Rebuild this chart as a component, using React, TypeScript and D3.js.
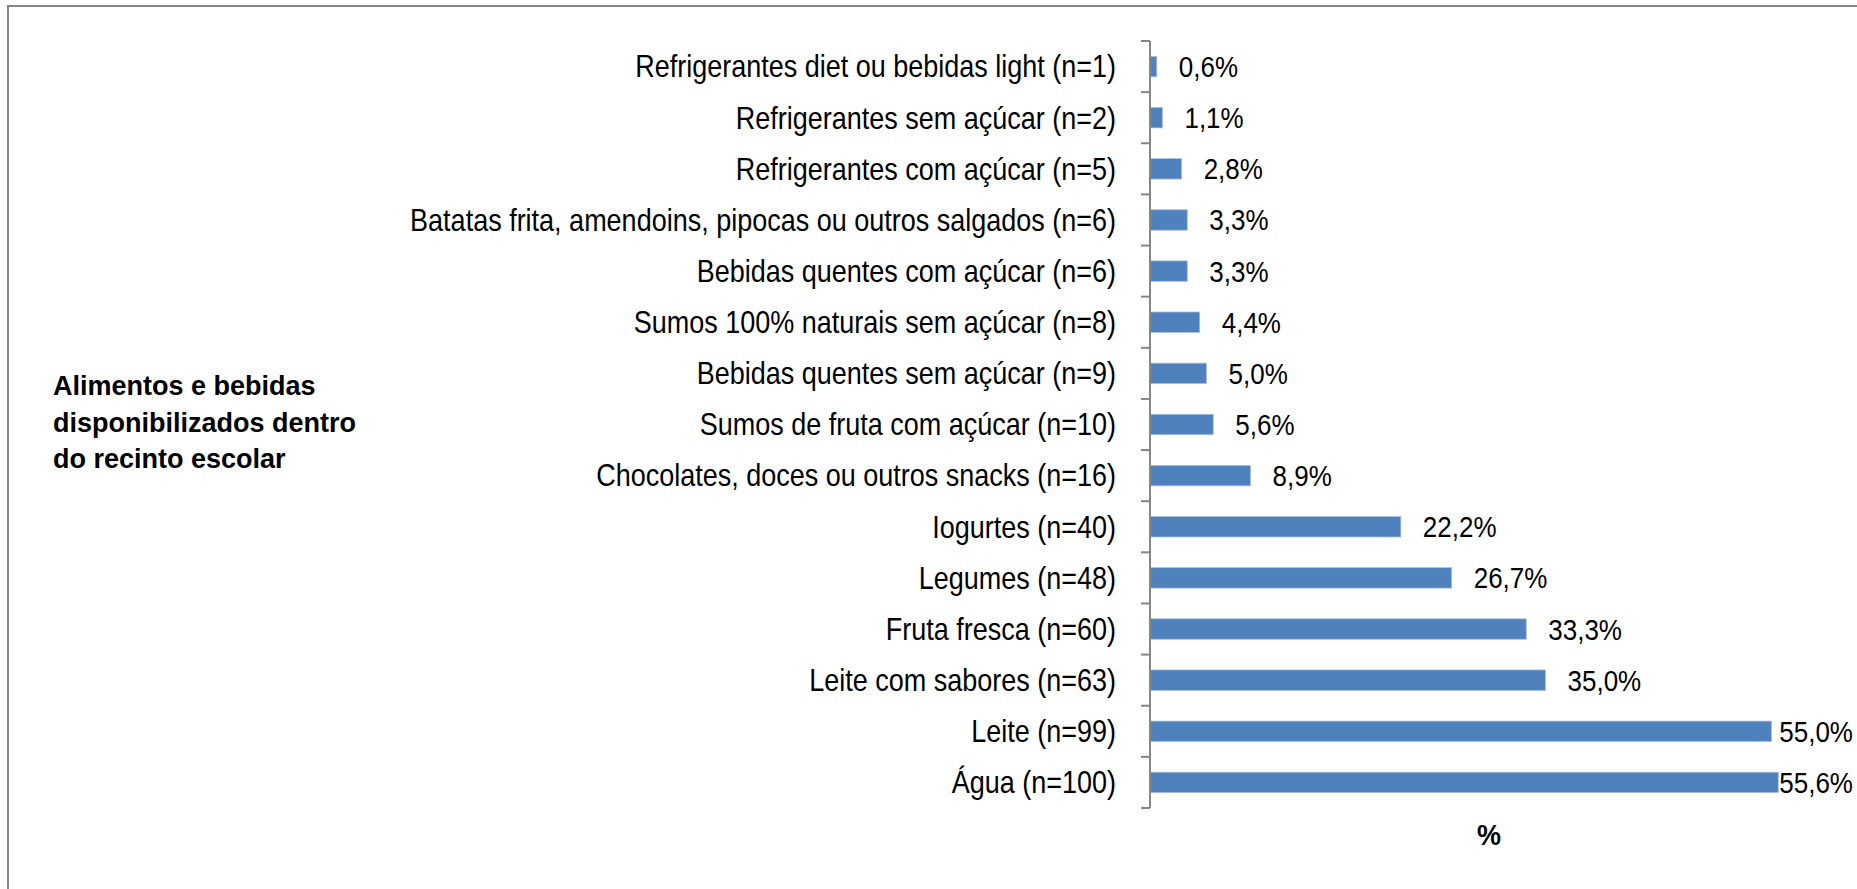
import React, { useEffect, useRef } from "react";
import * as d3 from "d3";

const categories: string[] = [
  "Refrigerantes diet ou bebidas light (n=1)",
  "Refrigerantes sem açúcar (n=2)",
  "Refrigerantes com açúcar (n=5)",
  "Batatas frita, amendoins, pipocas ou outros salgados (n=6)",
  "Bebidas quentes com açúcar (n=6)",
  "Sumos 100% naturais sem açúcar (n=8)",
  "Bebidas quentes sem açúcar (n=9)",
  "Sumos de fruta com açúcar (n=10)",
  "Chocolates, doces ou outros snacks (n=16)",
  "Iogurtes (n=40)",
  "Legumes (n=48)",
  "Fruta fresca (n=60)",
  "Leite com sabores (n=63)",
  "Leite (n=99)",
  "Água (n=100)",
];

const values: number[] = [0.6, 1.1, 2.8, 3.3, 3.3, 4.4, 5.0, 5.6, 8.9, 22.2, 26.7, 33.3, 35.0, 55.0, 55.6];

const titleLines: string[] = ["Alimentos e bebidas", "disponibilizados dentro", "do recinto escolar"];
const axisTitle = "%";
const xDomain: [number, number] = [0, 60];

const W = 1857;
const H = 889;
const FONT = "'Liberation Sans', Arial, Helvetica, sans-serif";

export default function App() {
  const ref = useRef<SVGSVGElement | null>(null);

  useEffect(() => {
    const svg = d3.select(ref.current!);
    svg.selectAll("*").remove();

    const plotLeft = 1150;
    const plotRight = 1828;
    const plotTop = 41;
    const plotBottom = 808;
    const rightLimit = 1853;

    const x = d3.scaleLinear().domain(xDomain).range([plotLeft, plotRight]);
    const y = d3
      .scaleBand<string>()
      .domain(categories)
      .range([plotTop, plotBottom])
      .paddingInner(0.6)
      .paddingOuter(0.3);

    // outer border
    svg
      .append("rect")
      .attr("x", 8)
      .attr("y", 6)
      .attr("width", W + 20)
      .attr("height", H + 20)
      .attr("fill", "none")
      .attr("stroke", "#878787")
      .attr("stroke-width", 2);

    // bars
    svg
      .append("g")
      .selectAll("rect")
      .data(values)
      .join("rect")
      .attr("x", x(0))
      .attr("y", (_d, i) => y(categories[i])!)
      .attr("width", (d) => x(d) - x(0))
      .attr("height", y.bandwidth())
      .attr("fill", "#4F81BD")
      .attr("stroke", "#a9c1df")
      .attr("stroke-width", 0.8);

    // axis line + ticks
    const axisG = svg.append("g");
    axisG
      .append("line")
      .attr("x1", plotLeft)
      .attr("x2", plotLeft)
      .attr("y1", plotTop)
      .attr("y2", plotBottom)
      .attr("stroke", "#868686")
      .attr("stroke-width", 2);
    const step = y.step();
    const tickYs = d3.range(categories.length + 1).map((i) => plotTop + i * step);
    axisG
      .selectAll("line.tick")
      .data(tickYs)
      .join("line")
      .attr("class", "tick")
      .attr("x1", plotLeft - 9)
      .attr("x2", plotLeft)
      .attr("y1", (d) => d)
      .attr("y2", (d) => d)
      .attr("stroke", "#868686")
      .attr("stroke-width", 2);

    // category labels
    const catSy = 1.13;
    svg
      .append("g")
      .selectAll("text")
      .data(categories)
      .join("text")
      .attr("transform", (d) => `translate(1116,${y(d)! + y.bandwidth() / 2 + 10.8}) scale(1,${catSy})`)
      .attr("text-anchor", "end")
      .attr("font-family", FONT)
      .attr("font-size", 27)
      .attr("fill", "#000")
      .text((d) => d);

    // data labels
    const fmt = (v: number) => d3.format(".1f")(v).replace(".", ",") + "%";
    const labSy = 1.12;
    const lab = svg
      .append("g")
      .selectAll("text")
      .data(values)
      .join("text")
      .attr("font-family", FONT)
      .attr("font-size", 26)
      .attr("fill", "#000")
      .text((d) => fmt(d));
    lab.each(function (d, i) {
      const el = this as SVGTextElement;
      const w = el.getComputedTextLength();
      let lx = x(d) + 22;
      if (lx + w > rightLimit) lx = rightLimit - w;
      const cy = y(categories[i])! + y.bandwidth() / 2 + 10.5;
      d3.select(el).attr("transform", `translate(${lx},${cy}) scale(1,${labSy})`);
    });

    // left title
    svg
      .append("g")
      .selectAll("text")
      .data(titleLines)
      .join("text")
      .attr("transform", (_d, i) => `translate(53,${395 + i * 36.5}) scale(1,1.05)`)
      .attr("font-family", FONT)
      .attr("font-size", 27)
      .attr("font-weight", "bold")
      .attr("fill", "#000")
      .text((d) => d);

    // axis title
    svg
      .append("text")
      .attr("transform", `translate(${(plotLeft + plotRight) / 2},845) scale(1,1.1)`)
      .attr("text-anchor", "middle")
      .attr("font-family", FONT)
      .attr("font-size", 27)
      .attr("font-weight", "bold")
      .attr("fill", "#000")
      .text(axisTitle);
  }, []);

  return (
    <svg
      ref={ref}
      width={W}
      height={H}
      style={{ position: "absolute", left: 0, top: 0, background: "#fff" }}
    />
  );
}
